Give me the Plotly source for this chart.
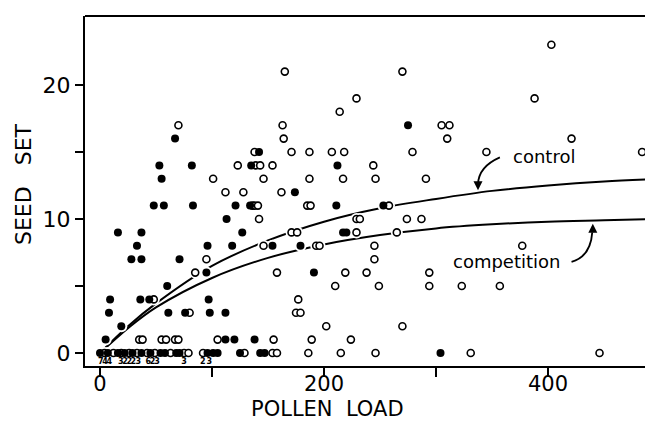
import plotly.graph_objects as go

# ---- data ----
# control (open circles)
ctrl_x = [403,
          165, 270,
          229, 388,
          214,
          70, 163, 305, 312,
          164, 310, 421,
          138, 171, 187, 207, 218, 279, 345, 484,
          123, 139, 143, 154, 244,
          101, 146, 187, 217, 246, 291,
          112, 128, 162,
          136, 138, 141, 185, 188, 258,
          142, 229, 232, 274, 287,
          171, 176, 229, 265,
          146, 193, 196, 245, 377,
          95, 245,
          85, 158, 219, 238, 294,
          210, 249, 294, 323, 357,
          48, 177,
          80, 175, 179,
          202, 270,
          35, 38, 55, 59, 67, 70, 105, 155, 189, 224,
          4, 12, 19, 26, 33, 42, 49, 63, 75, 79, 92, 129, 154, 158, 186, 215, 246, 331, 446]
ctrl_y = [23,
          21, 21,
          19, 19,
          18,
          17, 17, 17, 17,
          16, 16, 16,
          15, 15, 15, 15, 15, 15, 15, 15,
          14, 14, 14, 14, 14,
          13, 13, 13, 13, 13, 13,
          12, 12, 12,
          11, 11, 11, 11, 11, 11,
          10, 10, 10, 10, 10,
          9, 9, 9, 9,
          8, 8, 8, 8, 8,
          7, 7,
          6, 6, 6, 6, 6,
          5, 5, 5, 5, 5,
          4, 4,
          3, 3, 3,
          2, 2,
          1, 1, 1, 1, 1, 1, 1, 1, 1, 1,
          0, 0, 0, 0, 0, 0, 0, 0, 0, 0, 0, 0, 0, 0, 0, 0, 0, 0, 0]

# competition (filled circles)
comp_x = [275,
          67,
          142,
          53, 82, 135, 212,
          55,
          174,
          48, 57, 83, 121, 134, 211, 253,
          113,
          16, 37, 127, 217, 220,
          33, 96, 118, 154, 179,
          28, 37, 71,
          95, 191,
          60,
          9, 36, 44, 97,
          8, 61, 76, 98, 112,
          19,
          5, 112, 120, 138,
          0, 7, 16, 22, 29, 37, 45, 54, 58, 68, 71, 96, 101, 105, 125, 143, 147, 304]
comp_y = [17,
          16,
          15,
          14, 14, 14, 14,
          13,
          12,
          11, 11, 11, 11, 11, 11, 11,
          10,
          9, 9, 9, 9, 9,
          8, 8, 8, 8, 8,
          7, 7, 7,
          6, 6,
          5,
          4, 4, 4, 4,
          3, 3, 3, 3, 3,
          2,
          1, 1, 1, 1,
          0, 0, 0, 0, 0, 0, 0, 0, 0, 0, 0, 0, 0, 0, 0, 0, 0, 0]

# fitted curves
curve_x = [0, 25, 50, 100, 150, 200, 250, 300, 350, 400, 450, 500]
control_curve = [0, 2.0, 3.7, 6.5, 8.4, 9.8, 10.8, 11.5, 12.1, 12.5, 12.8, 13.0]
competition_curve = [0, 1.85, 3.4, 5.6, 7.1, 8.1, 8.8, 9.3, 9.6, 9.8, 9.9, 10.0]

# counts of overlapping points at zero
count_x = [0.6, 4.5, 8.3, 18.5, 22.3, 26.2, 29.8, 34.2, 43.2, 47, 51, 75, 91.7, 97.6]
count_text = ["7", "4", "4", "3", "2", "2", "2", "3", "6", "2", "3", "3", "2", "3"]
count_y = [-0.68] * len(count_x)

x_tickvals = [0, 100, 200, 300, 400]
x_ticktext = ["0", "", "200", "", "400"]
y_tickvals = [0, 5, 10, 15, 20]
y_ticktext = ["0", "", "10", "", "20"]

FONT = "DejaVu Sans"

fig = go.Figure()
fig.add_trace(go.Scatter(x=curve_x, y=control_curve, mode="lines", line=dict(color="black", width=2, shape="spline"), hoverinfo="skip"))
fig.add_trace(go.Scatter(x=curve_x, y=competition_curve, mode="lines", line=dict(color="black", width=2, shape="spline"), hoverinfo="skip"))
# white halos to break the curves around points
fig.add_trace(go.Scatter(x=ctrl_x + comp_x, y=ctrl_y + comp_y, mode="markers", marker=dict(color="white", size=12, line=dict(width=0)), hoverinfo="skip"))
fig.add_trace(go.Scatter(x=ctrl_x, y=ctrl_y, mode="markers", marker=dict(symbol="circle", color="white", size=7, line=dict(color="black", width=1.6))))
fig.add_trace(go.Scatter(x=comp_x, y=comp_y, mode="markers", marker=dict(symbol="circle", color="black", size=8, line=dict(width=0))))
fig.add_trace(go.Scatter(x=count_x, y=count_y, mode="text", text=count_text, textfont=dict(family=FONT, size=8, color="black", weight="bold"), hoverinfo="skip"))

# top frame line
fig.add_shape(type="line", x0=0, x1=1, y0=1, y1=1, xref="paper", yref="paper", line=dict(color="black", width=2))

# curved arrows
fig.add_shape(type="path", path="M 357,14.6 Q 338,13.9 337.5,12.6", line=dict(color="black", width=1.8), xref="x", yref="y")
fig.add_shape(type="path", path="M 421,6.8 Q 438,7.2 439.5,9.0", line=dict(color="black", width=1.8), xref="x", yref="y")
fig.add_annotation(x=337.5, y=12.15, ax=0, ay=-9, axref="pixel", ayref="pixel", text="", showarrow=True, arrowhead=2, arrowsize=1, arrowwidth=1.8, arrowcolor="black")
fig.add_annotation(x=440, y=9.65, ax=0, ay=10, axref="pixel", ayref="pixel", text="", showarrow=True, arrowhead=2, arrowsize=1, arrowwidth=1.8, arrowcolor="black")

fig.add_annotation(x=396, y=14.7, text="control", showarrow=False, xanchor="center", yanchor="middle", font=dict(family=FONT, size=18, color="black"))
fig.add_annotation(x=363, y=6.8, text="competition", showarrow=False, xanchor="center", yanchor="middle", font=dict(family=FONT, size=18, color="black"))

# axis titles
fig.add_annotation(x=202.7, y=-0.122, xref="x", yref="paper", text="POLLEN\u00a0\u00a0LOAD", showarrow=False,
                   xanchor="center", yanchor="middle", font=dict(family=FONT, size=21, color="black"))
fig.add_annotation(x=-0.111, y=12.6, xref="paper", yref="y", text="SEED\u00a0\u00a0\u00a0SET", showarrow=False, textangle=-90,
                   xanchor="center", yanchor="middle", font=dict(family=FONT, size=22, color="black"))

# the page body adds an 8px margin on each side; keep the figure inside the window
fig.update_layout(
    width=637, height=415,
    margin=dict(l=77, r=0, t=8, b=57, autoexpand=False),
    paper_bgcolor="white", plot_bgcolor="white",
    showlegend=False,
    font=dict(family=FONT, color="black"),
)
fig.update_xaxes(
    range=[-13.4, 486.6], showgrid=False, zeroline=False, automargin=False,
    showline=True, linecolor="black", linewidth=2, mirror=False,
    ticks="outside", ticklen=9, tickwidth=2, tickcolor="black", ticklabelstandoff=-11,
    tickvals=x_tickvals, ticktext=x_ticktext, tickfont=dict(size=21, family=FONT),
)
fig.update_yaxes(
    range=[-0.97, 25.15], showgrid=False, zeroline=False, automargin=False,
    showline=True, linecolor="black", linewidth=2, mirror=False,
    ticks="outside", ticklen=8, tickwidth=2, tickcolor="black",
    tickvals=y_tickvals, ticktext=y_ticktext, tickfont=dict(size=22, family=FONT),
)

fig.write_html("out.html")
